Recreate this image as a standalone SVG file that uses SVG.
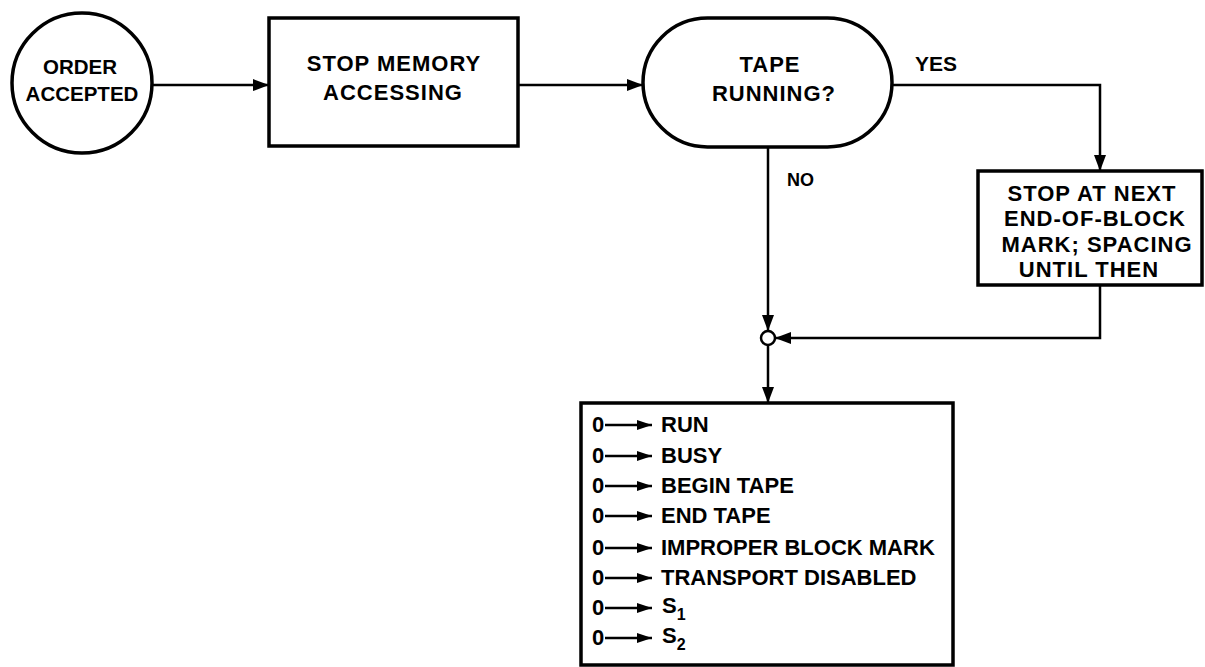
<svg xmlns="http://www.w3.org/2000/svg" width="1205" height="667" viewBox="0 0 1205 667">
<style>
.n{fill:#fff;stroke:#000;stroke-width:3.5}
.c{fill:none;stroke:#000;stroke-width:2.5}
.t{font-family:"Liberation Sans",Arial,sans-serif;font-weight:bold;fill:#000}
.m{text-anchor:middle}
.b{font-size:22px;letter-spacing:1px}
.l{font-size:22px}
</style>
<defs>
<marker id="ah" markerUnits="userSpaceOnUse" markerWidth="16" markerHeight="12" refX="16" refY="6" orient="auto"><path d="M0,0 L16,6 L0,12 z" fill="#000"/></marker>
<marker id="sh" markerUnits="userSpaceOnUse" markerWidth="15" markerHeight="10" refX="15" refY="5" orient="auto"><path d="M0,0 L15,5 L0,10 z" fill="#000"/></marker>
</defs>
<rect width="1205" height="667" fill="#fff"/>
<g id="connectors">
<path class="c" d="M152,85 H269" marker-end="url(#ah)"/>
<path class="c" d="M518,85 H643" marker-end="url(#ah)"/>
<path class="c" d="M892,85 H1100 V171" marker-end="url(#ah)"/>
<path class="c" d="M768,147 V331" marker-end="url(#ah)"/>
<path class="c" d="M1100,285 V338 H775" marker-end="url(#ah)"/>
<path class="c" d="M768,345 V403" marker-end="url(#ah)"/>
<text class="t" x="915" y="71" style="font-size:21px">YES</text>
<text class="t" x="787" y="186" style="font-size:18px">NO</text>
</g>
<g id="order-accepted">
<circle class="n" cx="82" cy="83" r="70"/>
<text class="t m" x="80" y="74" style="font-size:20.5px">ORDER</text>
<text class="t m" x="82" y="101" style="font-size:20.5px">ACCEPTED</text>
</g>
<g id="stop-memory">
<rect class="n" x="269" y="18" width="249" height="128"/>
<text class="t m b" x="394" y="71">STOP MEMORY</text>
<text class="t m b" x="393" y="100">ACCESSING</text>
</g>
<g id="tape-running">
<rect class="n" x="643" y="18" width="249" height="129" rx="64.5" ry="64.5"/>
<text class="t m b" x="770" y="72">TAPE</text>
<text class="t m b" x="774" y="101">RUNNING?</text>
</g>
<g id="stop-next">
<rect class="n" x="978" y="171" width="224" height="114"/>
<text class="t m b" x="1092" y="201">STOP AT NEXT</text>
<text class="t m b" x="1095" y="226">END-OF-BLOCK</text>
<text class="t m b" x="1097" y="252">MARK; SPACING</text>
<text class="t m b" x="1089" y="277">UNTIL THEN</text>
</g>
<g id="junction">
<circle cx="768" cy="338" r="7" fill="#fff" stroke="#000" stroke-width="2.5"/>
</g>
<g id="reset-list">
<rect class="n" x="581" y="403" width="372" height="262"/>
<g class="t l">
<text x="592" y="432">0</text><path class="c" d="M605,425 H652" marker-end="url(#sh)"/><text x="661" y="432">RUN</text>
<text x="592" y="463">0</text><path class="c" d="M605,456 H652" marker-end="url(#sh)"/><text x="661" y="463">BUSY</text>
<text x="592" y="493">0</text><path class="c" d="M605,486 H652" marker-end="url(#sh)"/><text x="661" y="493">BEGIN TAPE</text>
<text x="592" y="523">0</text><path class="c" d="M605,516 H652" marker-end="url(#sh)"/><text x="661" y="523">END TAPE</text>
<text x="592" y="555">0</text><path class="c" d="M605,548 H652" marker-end="url(#sh)"/><text x="661" y="555">IMPROPER BLOCK MARK</text>
<text x="592" y="585">0</text><path class="c" d="M605,578 H652" marker-end="url(#sh)"/><text x="661" y="585">TRANSPORT DISABLED</text>
<text x="592" y="615">0</text><path class="c" d="M605,608 H652" marker-end="url(#sh)"/><text x="662" y="613">S<tspan dy="7" style="font-size:16px">1</tspan></text>
<text x="592" y="645">0</text><path class="c" d="M605,638 H652" marker-end="url(#sh)"/><text x="662" y="643">S<tspan dy="7" style="font-size:16px">2</tspan></text>
</g>
</g>
</svg>
